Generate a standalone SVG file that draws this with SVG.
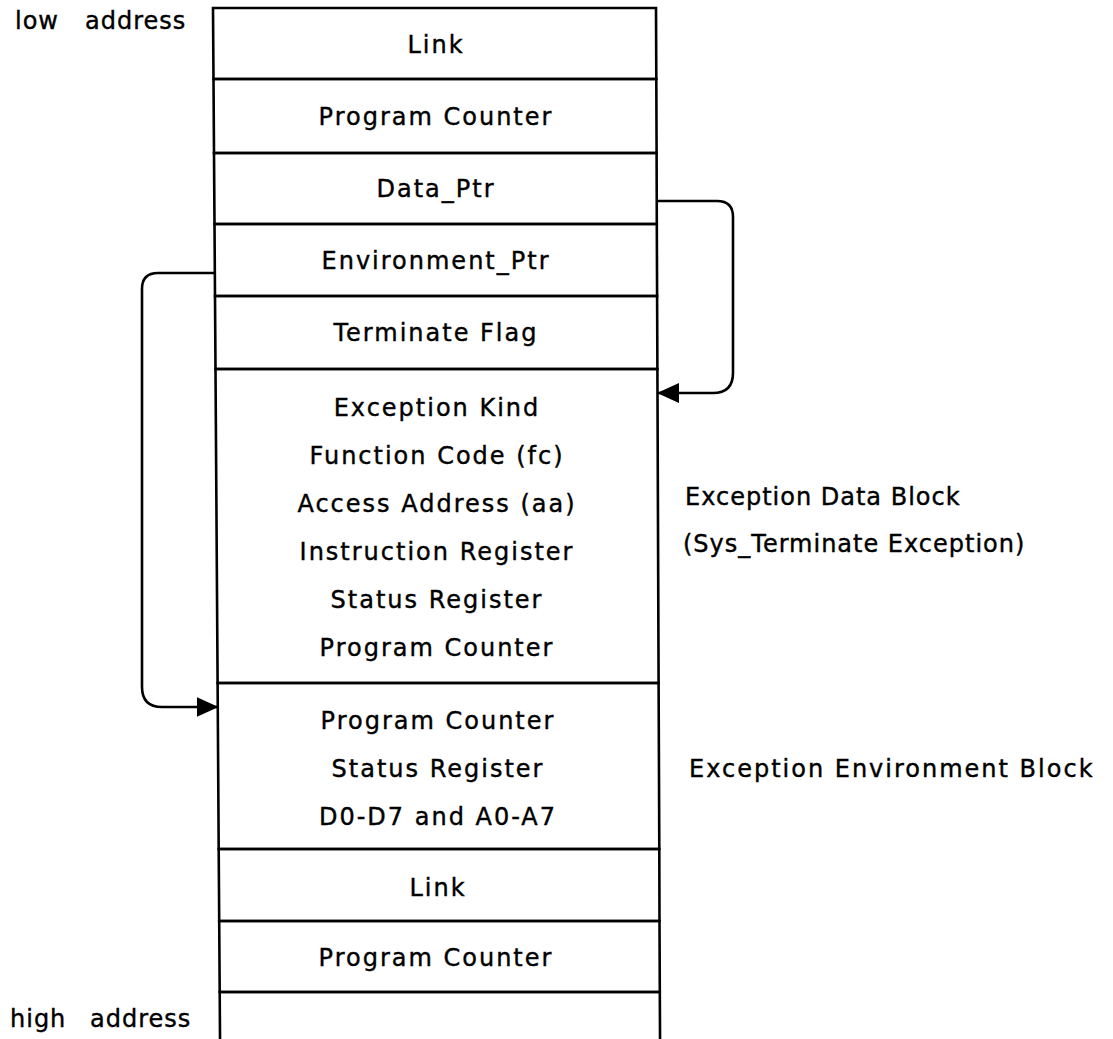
<svg xmlns="http://www.w3.org/2000/svg" width="1113" height="1039" viewBox="0 0 1113 1039">
<defs>
<style>
.row{fill:none;stroke:#000;stroke-width:2.6;stroke-linejoin:miter}
.t{font-family:"DejaVu Sans","Liberation Sans",sans-serif;font-size:24px;fill:#000;stroke:#000;stroke-width:0.4;letter-spacing:2px;text-anchor:middle}
.l{font-family:"DejaVu Sans","Liberation Sans",sans-serif;font-size:24px;fill:#000;stroke:#000;stroke-width:0.4;letter-spacing:2px}
.c{fill:none;stroke:#000;stroke-width:2.6;marker-end:url(#ah)}
</style>
<marker id="ah" viewBox="0 0 22 20" refX="21" refY="10" markerWidth="22" markerHeight="20" markerUnits="userSpaceOnUse" orient="auto">
<path d="M0,0 L22,10 L0,20 Z" fill="#000"/>
</marker>
</defs>
<rect width="1113" height="1039" fill="#fff"/>
<g id="labels">
<text class="l" x="15" y="29" style="letter-spacing:1px">low</text>
<text class="l" x="85" y="29" style="letter-spacing:1px">address</text>
<text class="l" x="10" y="1027" style="letter-spacing:1px">high</text>
<text class="l" x="90" y="1027" style="letter-spacing:1px">address</text>
<text class="l" x="685" y="505" style="letter-spacing:1px">Exception Data Block</text>
<text class="l" x="683" y="552" style="letter-spacing:1px">(Sys_Terminate Exception)</text>
<text class="l" x="689" y="777">Exception Environment Block</text>
</g>
<g id="row-link1"><polygon class="row" points="213,8 656,8 656.3,79 213.5,79"/><text class="t" x="436" y="53">Link</text></g>
<g id="row-pc1"><polygon class="row" points="213.5,79 656.3,79 656.6,153 214,153"/><text class="t" x="436" y="125">Program Counter</text></g>
<g id="row-dataptr"><polygon class="row" points="214,153 656.6,153 656.8,224 214.5,224"/><text class="t" x="436" y="197">Data_Ptr</text></g>
<g id="row-envptr"><polygon class="row" points="214.5,224 656.8,224 657.1,296 215,296"/><text class="t" x="436" y="269">Environment_Ptr</text></g>
<g id="row-termflag"><polygon class="row" points="215,296 657.1,296 657.4,369 215.5,369"/><text class="t" x="436" y="341">Terminate Flag</text></g>
<g id="row-excdata"><polygon class="row" points="215.5,369 657.4,369 658.6,683 217.6,683"/>
<text class="t" x="437" y="416">Exception Kind</text>
<text class="t" x="437" y="464">Function Code (fc)</text>
<text class="t" x="437" y="512">Access Address (aa)</text>
<text class="t" x="437" y="560">Instruction Register</text>
<text class="t" x="437" y="608">Status Register</text>
<text class="t" x="437" y="656">Program Counter</text>
</g>
<g id="row-excenv"><polygon class="row" points="217.6,683 658.6,683 659.3,849 218.7,849"/>
<text class="t" x="438" y="729">Program Counter</text>
<text class="t" x="438" y="777">Status Register</text>
<text class="t" x="438" y="825">D0-D7 and A0-A7</text>
</g>
<g id="row-link2"><polygon class="row" points="218.7,849 659.3,849 659.5,921 219.2,921"/><text class="t" x="438" y="896">Link</text></g>
<g id="row-pc2"><polygon class="row" points="219.2,921 659.5,921 659.8,992 219.7,992"/><text class="t" x="436" y="966">Program Counter</text></g>
<g id="row-empty"><polygon class="row" points="219.7,992 659.8,992 660.1,1050 220.1,1050"/></g>
<g id="connectors">
<path class="c" d="M656.7,201 H717 Q733,201 733,217 V373 Q733,393 713,393 H658"/>
<path class="c" d="M214.5,273 H158 Q142,273 142,289 V687 Q142,707 162,707 H217.5"/>
</g>
</svg>
